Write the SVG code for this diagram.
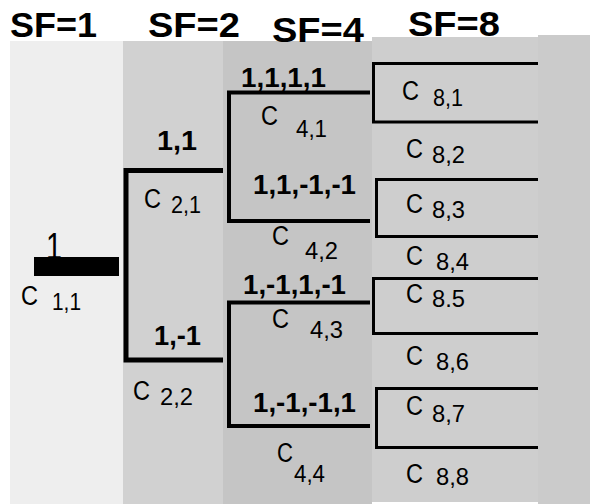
<svg xmlns="http://www.w3.org/2000/svg" width="590" height="504" viewBox="0 0 590 504">
  <style>
    text { font-family: "Liberation Sans", Arial, sans-serif; fill: #000; }
    .hdr { font-size: 35px; font-weight: bold; }
    .code { font-size: 28px; font-weight: bold; }
    .c { font-size: 27px; }
    .sub { font-size: 24px; }
    .one { font-size: 36px; }
    .br2 { fill: none; stroke: #000; stroke-width: 5; }
    .br4 { fill: none; stroke: #000; stroke-width: 4; }
    .br8 { fill: none; stroke: #000; stroke-width: 3; }
  </style>

  <rect width="590" height="504" fill="#ffffff"/>

  <!-- spreading-factor columns -->
  <g id="columns">
    <rect x="10" y="41" width="113" height="463" fill="#eeeeee"/>
    <rect x="123" y="41" width="100" height="463" fill="#d1d1d1"/>
    <rect x="223" y="41" width="149" height="463" fill="#c5c5c5"/>
    <rect x="372" y="37" width="166" height="465" fill="#cecece"/>
    <rect x="538" y="35" width="52" height="469" fill="#cbcbcb"/>
  </g>

  <g id="headers">
    <text class="hdr" x="10" y="37" textLength="87" lengthAdjust="spacingAndGlyphs">SF=1</text>
    <text class="hdr" x="148" y="37" textLength="92" lengthAdjust="spacingAndGlyphs">SF=2</text>
    <text class="hdr" x="272" y="42" textLength="92" lengthAdjust="spacingAndGlyphs">SF=4</text>
    <text class="hdr" x="408" y="36" textLength="92" lengthAdjust="spacingAndGlyphs">SF=8</text>
  </g>

  <!-- code tree branches -->
  <g id="connectors">
    <path class="br2" d="M223 170.5 H126 V360 H223"/>
    <path class="br4" d="M370 92.5 H229 V221 H370"/>
    <path class="br4" d="M370 302.5 H229 V426 H370"/>
    <path class="br8" d="M538 63.5 H373.5 V122 H538"/>
    <path class="br8" d="M538 179.5 H376.5 V236.5 H538"/>
    <path class="br8" d="M538 278.5 H373.5 V333.5 H538"/>
    <path class="br8" d="M538 388.5 H376.5 V447.5 H538"/>
  </g>

  <g id="c11">
    <rect x="34" y="257" width="85" height="19" fill="#000"/>
    <text class="one" x="46" y="259" textLength="16" lengthAdjust="spacingAndGlyphs">1</text>
    <text class="c" x="21" y="305" textLength="17" lengthAdjust="spacingAndGlyphs">C</text>
    <text class="sub" x="52" y="310" textLength="29" lengthAdjust="spacingAndGlyphs">1,1</text>
  </g>

  <g id="c21">
    <text class="code" x="157" y="150" textLength="40" lengthAdjust="spacingAndGlyphs">1,1</text>
    <text class="c" x="144" y="208" textLength="17" lengthAdjust="spacingAndGlyphs">C</text>
    <text class="sub" x="171" y="213" textLength="30" lengthAdjust="spacingAndGlyphs">2,1</text>
  </g>
  <g id="c22">
    <text class="code" x="154" y="345" textLength="47" lengthAdjust="spacingAndGlyphs">1,-1</text>
    <text class="c" x="133" y="400" textLength="17" lengthAdjust="spacingAndGlyphs">C</text>
    <text class="sub" x="160" y="405" textLength="33" lengthAdjust="spacingAndGlyphs">2,2</text>
  </g>

  <g id="c41">
    <text class="code" x="241" y="87" textLength="85" lengthAdjust="spacingAndGlyphs">1,1,1,1</text>
    <text class="c" x="261" y="125" textLength="17" lengthAdjust="spacingAndGlyphs">C</text>
    <text class="sub" x="296" y="137" textLength="31" lengthAdjust="spacingAndGlyphs">4,1</text>
  </g>
  <g id="c42">
    <text class="code" x="253" y="194" textLength="103" lengthAdjust="spacingAndGlyphs">1,1,-1,-1</text>
    <text class="c" x="272" y="245" textLength="17" lengthAdjust="spacingAndGlyphs">C</text>
    <text class="sub" x="305" y="259" textLength="33" lengthAdjust="spacingAndGlyphs">4,2</text>
  </g>
  <g id="c43">
    <text class="code" x="243" y="294" textLength="103" lengthAdjust="spacingAndGlyphs">1,-1,1,-1</text>
    <text class="c" x="272" y="328" textLength="17" lengthAdjust="spacingAndGlyphs">C</text>
    <text class="sub" x="310" y="338" textLength="33" lengthAdjust="spacingAndGlyphs">4,3</text>
  </g>
  <g id="c44">
    <text class="code" x="253" y="412" textLength="103" lengthAdjust="spacingAndGlyphs">1,-1,-1,1</text>
    <text class="c" x="277" y="462" textLength="16" lengthAdjust="spacingAndGlyphs">C</text>
    <text class="sub" x="294" y="482" textLength="31" lengthAdjust="spacingAndGlyphs">4,4</text>
  </g>

  <g id="c81">
    <text class="c" x="402" y="100" textLength="17" lengthAdjust="spacingAndGlyphs">C</text>
    <text class="sub" x="433" y="106" textLength="30" lengthAdjust="spacingAndGlyphs">8,1</text>
  </g>
  <g id="c82">
    <text class="c" x="406" y="158" textLength="17" lengthAdjust="spacingAndGlyphs">C</text>
    <text class="sub" x="432" y="163" textLength="33" lengthAdjust="spacingAndGlyphs">8,2</text>
  </g>
  <g id="c83">
    <text class="c" x="406" y="213" textLength="17" lengthAdjust="spacingAndGlyphs">C</text>
    <text class="sub" x="432" y="218" textLength="33" lengthAdjust="spacingAndGlyphs">8,3</text>
  </g>
  <g id="c84">
    <text class="c" x="406" y="265" textLength="17" lengthAdjust="spacingAndGlyphs">C</text>
    <text class="sub" x="436" y="270" textLength="33" lengthAdjust="spacingAndGlyphs">8,4</text>
  </g>
  <g id="c85">
    <text class="c" x="406" y="303" textLength="17" lengthAdjust="spacingAndGlyphs">C</text>
    <text class="sub" x="432" y="307" textLength="33" lengthAdjust="spacingAndGlyphs">8.5</text>
  </g>
  <g id="c86">
    <text class="c" x="406" y="365" textLength="17" lengthAdjust="spacingAndGlyphs">C</text>
    <text class="sub" x="436" y="370" textLength="33" lengthAdjust="spacingAndGlyphs">8,6</text>
  </g>
  <g id="c87">
    <text class="c" x="406" y="415" textLength="17" lengthAdjust="spacingAndGlyphs">C</text>
    <text class="sub" x="432" y="422" textLength="33" lengthAdjust="spacingAndGlyphs">8,7</text>
  </g>
  <g id="c88">
    <text class="c" x="406" y="483" textLength="17" lengthAdjust="spacingAndGlyphs">C</text>
    <text class="sub" x="436" y="485" textLength="33" lengthAdjust="spacingAndGlyphs">8,8</text>
  </g>
</svg>
